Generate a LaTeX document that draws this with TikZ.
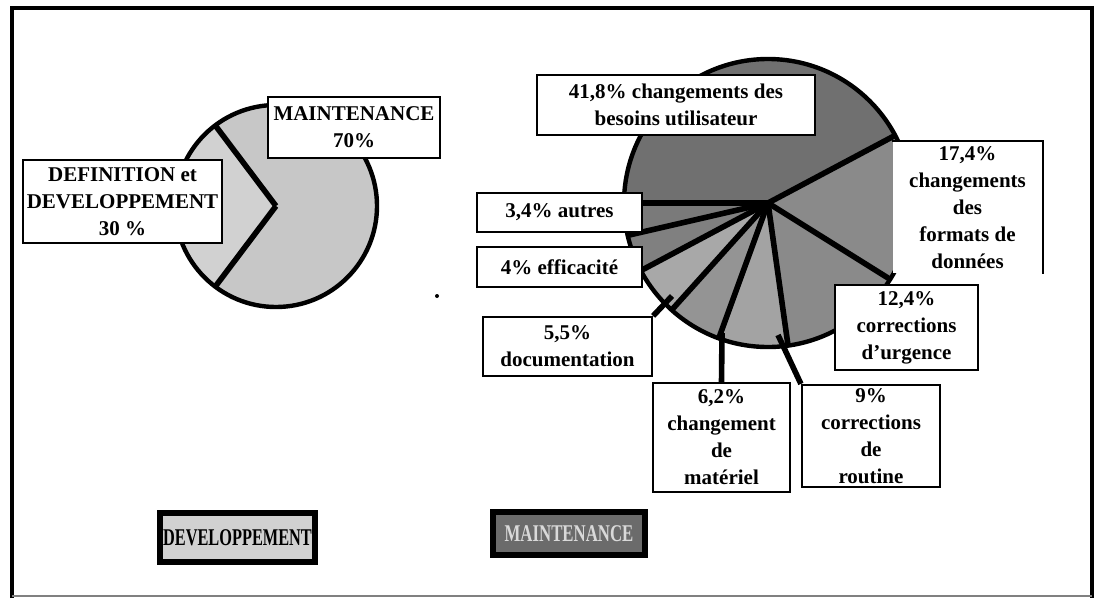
\documentclass[tikz,border=0pt]{standalone}
\usepackage{fontspec}
\setmainfont{Liberation Serif}
\tikzset{label box/.style={
    draw, fill=white,
    line width=1.1pt,
    align=center,
    inner sep=0pt,
    font=\bfseries\fontsize{10.5}{13.5}\selectfont
  },
  pie rim/.style={line width=2.2pt},
  slice line/.style={line width=2.8pt},
  leader/.style={line width=2.8pt},
  legend box/.style={
    draw, fill=#1,
    line width=3.4pt,
    inner sep=0pt,
    font=\bfseries\fontsize{12}{14}\selectfont
  },
  legend box/.default=black!18
}

\begin{document}
\begin{tikzpicture}[x=0.5pt,y=-0.5pt]
  \useasboundingbox (0,0) rectangle (1095,600);
  % frame
  \draw[line width=2pt] (12,598) -- (12,8) -- (1092,8) -- (1092,598);
  \draw[gray,line width=1pt] (12,596) -- (1092,596);

  % left pie
  \coordinate (lc) at (276,206);
  \fill[black!22] (lc) circle[radius=101];
  \fill[black!18] (lc) -- ++(-127:101) arc[start angle=-127,end angle=-233,radius=101] -- cycle;
  \draw[slice line] (lc) -- ++(-127:101);
  \draw[slice line] (lc) -- ++(-233:101);
  \draw[pie rim] (lc) circle[radius=101];

  \node[label box,minimum width=86pt,minimum height=30.5pt] (mainL) at (354,127.5)
    {MAINTENANCE\\70\%};
  \node[label box,minimum width=99.5pt,minimum height=41.5pt] (defL) at (122.5,201.5)
    {DEFINITION et\\DEVELOPPEMENT\\30 \%};

  \fill (437,296) circle[radius=2];

  % right pie
  \coordinate (rc) at (768,203);
  \foreach \a/\b/\shade in {28/180/56,180/193/52,193/208/50,208/228/34,
                           228/250/42,250/278/36,278/328/46,328/388/46}
    \fill[black!\shade] (rc) -- ++(-\a:144) arc[start angle=-\a,end angle=-\b,radius=144] -- cycle;
  \foreach \a in {28,180,193,208,228,250,278,328}
    \draw[slice line] (rc) -- ++(-\a:144);
  \draw[pie rim] (rc) circle[radius=144];

  \node[label box,minimum width=139pt,minimum height=30pt] (besoins) at (676,105)
    {41,8\% changements des\\besoins utilisateur};
  \node[label box,draw=none,minimum width=74.5pt,minimum height=65.5pt] (formats) at (967.5,207.5)
    {17,4\%\\changements\\des\\formats de\\données};
  \draw[line width=1.1pt] (formats.north west) -- (formats.north east) -- (formats.south east);
  \node[label box,minimum width=71.5pt,minimum height=42.5pt] (urgence) at (906.5,327.5)
    {12,4\%\\corrections\\d'urgence};
  \node[label box,minimum width=69pt,minimum height=51pt] (routine) at (871,436)
    {9\%\\corrections\\de\\routine};
  \node[label box,minimum width=68.5pt,minimum height=54.5pt] (materiel) at (721.5,437.5)
    {6,2\%\\changement\\de\\matériel};
  \node[label box,minimum width=84.5pt,minimum height=29.5pt] (docu) at (567.5,346.5)
    {5,5\%\\documentation};
  \node[label box,minimum width=82.5pt,minimum height=19.5pt] (autres) at (559.5,212.5)
    {3,4\% autres};
  \node[label box,minimum width=82.5pt,minimum height=20pt] (effic) at (559.5,267)
    {4\% efficacité};

  % leaders
  \coordinate (pdocu) at (672,296);
  \coordinate (pmat) at (722,333);
  \coordinate (prout) at (778,335);
  \draw[leader] (docu.north east) -- (pdocu);
  \draw[leader] (materiel.north) -- (pmat);
  \draw[leader] (routine.north west) -- (prout);

  % legend
  \node[legend box,minimum width=77.5pt,minimum height=24.5pt] (legDev) at (237.5,537.5)
    {\scalebox{0.68}[1]{DEVELOPPEMENT}};
  \node[legend box=black!58,text=black!15,minimum width=76pt,minimum height=21.5pt] (legMaint) at (569,533.5)
    {\scalebox{0.7}[1]{MAINTENANCE}};
\end{tikzpicture}
\end{document}
